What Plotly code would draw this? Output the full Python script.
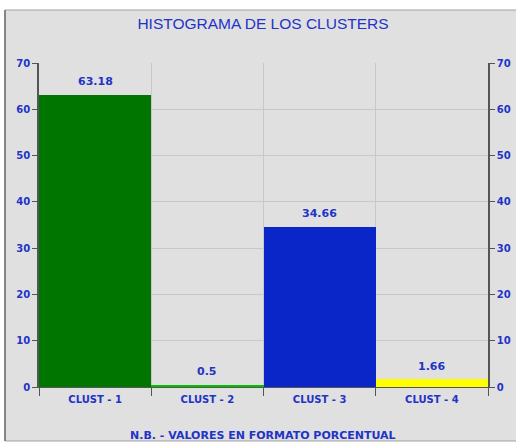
import plotly.graph_objects as go

categories = ["CLUST - 1", "CLUST - 2", "CLUST - 3", "CLUST - 4"]
values = [63.18, 0.5, 34.66, 1.66]
labels = ["63.18", "0.5", "34.66", "1.66"]
colors = ["#007500", "#00C000", "#0A26C8", "#FFFF00"]
y_ticks = [0, 10, 20, 30, 40, 50, 60, 70]

BLUE = "#2233C8"
FONT = "DejaVu Sans"

fig = go.Figure()
fig.add_trace(go.Bar(
    x=categories, y=values,
    marker=dict(color=colors, line=dict(width=0)),
    showlegend=False, hoverinfo="skip",
))
fig.add_trace(go.Scatter(x=categories, y=values, yaxis="y2", mode="none",
                         showlegend=False, hoverinfo="skip"))

axis_tick_font = dict(color=BLUE, size=10, family=FONT, weight="bold")

value_annotations = [
    dict(x=c, y=v, text=t, xref="x", yref="y", showarrow=False,
         yanchor="middle", yshift=13,
         font=dict(color=BLUE, size=11, family=FONT, weight="bold"))
    for c, v, t in zip(categories, values, labels)
]

fig.update_layout(
    width=516, height=444,
    margin=dict(l=39, r=28, t=63, b=57, autoexpand=False),
    paper_bgcolor="white",
    plot_bgcolor="#E0E0E0",
    bargap=0,
    title=dict(text="HISTOGRAMA DE LOS CLUSTERS", x=263/516, xanchor="center",
               y=1 - 24/444, yanchor="middle", yref="container",
               font=dict(color=BLUE, size=15.5, family="Liberation Sans")),
    xaxis=dict(type="category", tickson="boundaries", ticks="outside", ticklen=8,
               tickcolor="#555555", showgrid=True, gridcolor="#C8C8C8",
               showline=True, linecolor="#555555", linewidth=1, automargin=False,
               ticklabelstandoff=3,
               tickfont=dict(color=BLUE, size=10, family=FONT, weight="bold")),
    yaxis=dict(range=[0, 70], tickvals=y_ticks, ticks="outside", ticklen=5,
               tickcolor="#555555", showgrid=True, gridcolor="#C8C8C8",
               showline=True, linecolor="#555555", linewidth=1.5, automargin=False,
               zeroline=False, tickfont=axis_tick_font),
    yaxis2=dict(range=[0, 70], tickvals=y_ticks, overlaying="y", side="right",
                ticks="outside", ticklen=5, tickcolor="#555555", automargin=False,
                showgrid=False, showline=True, linecolor="#555555", linewidth=1.5,
                zeroline=False, tickfont=axis_tick_font),
    shapes=[dict(type="rect", xref="paper", yref="paper",
                 x0=(5 - 39) / 449, x1=(520 - 39) / 449,
                 y0=(387 - 441) / 324, y1=(387 - 10) / 324,
                 fillcolor="#E0E0E0", line=dict(color="#A0A0A0", width=1),
                 layer="below"),
            dict(type="line", xref="paper", yref="paper",
                 x0=(5 - 39) / 449, x1=(5 - 39) / 449,
                 y0=(387 - 441) / 324, y1=(387 - 10) / 324,
                 line=dict(color="#707070", width=1.5), layer="below")],
    annotations=value_annotations + [
        dict(text="N.B. - VALORES EN FORMATO PORCENTUAL",
             xref="paper", yref="paper", x=(263 - 39) / 449,
             y=(387 - 435) / 324, xanchor="center", yanchor="middle",
             showarrow=False,
             font=dict(color=BLUE, size=11, family=FONT, weight="bold"))],
)

fig.write_html("out.html", config={"displayModeBar": False},
               post_script="document.body.style.margin='0';document.body.style.overflow='hidden';")
